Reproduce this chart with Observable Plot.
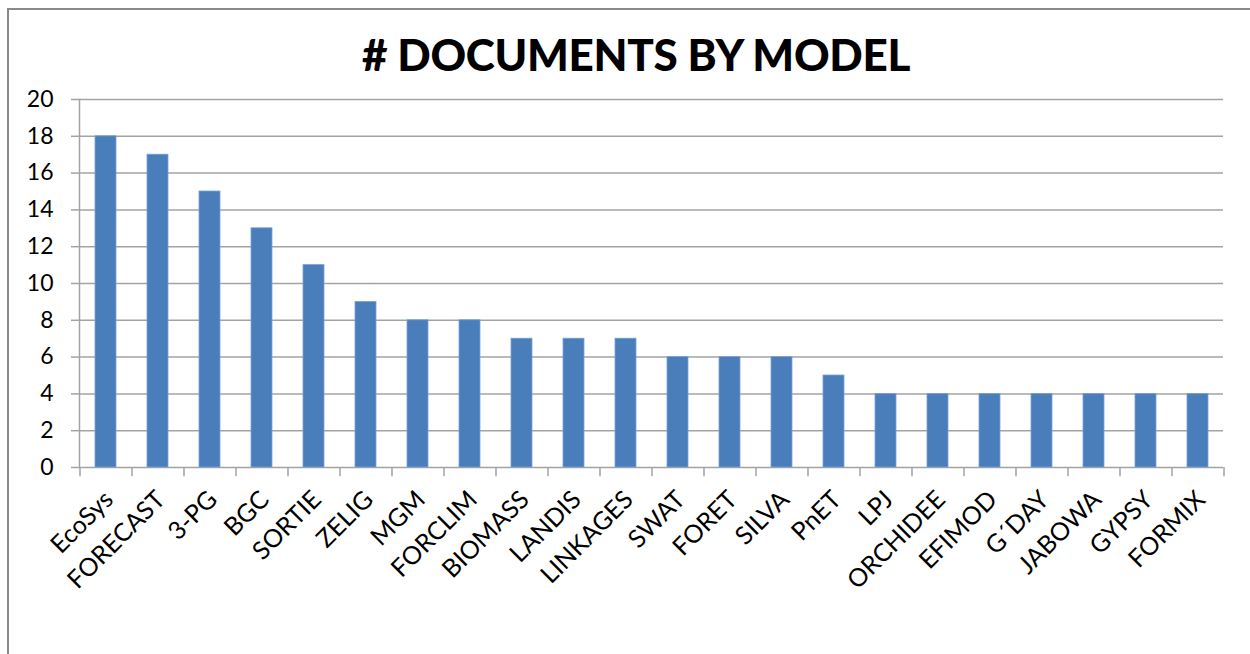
<!DOCTYPE html>
<html>
<head>
<meta charset="utf-8">
<script src="https://cdn.jsdelivr.net/npm/d3@7"></script>
<script src="https://cdn.jsdelivr.net/npm/@observablehq/plot@0.6"></script>
<style>
  html, body { margin: 0; padding: 0; background: #fff; }
  #wrap { position: relative; width: 1250px; height: 654px; overflow: hidden; background: #fff; }
  #frame { position: absolute; left: 7px; top: 8px; width: 1300px; height: 700px;
           border-top: 2px solid #8a8a8a; border-left: 2px solid #8a8a8a; }
  #chart { position: absolute; left: 0; top: 50px; }
  #title { position: absolute; left: 0; width: 1272px; top: 28px; text-align: center;
           font-family: Lato, "Liberation Sans", sans-serif; font-weight: 900; font-size: 44px;
           color: #000; letter-spacing: -0.3px; z-index: 2; }
</style>
</head>
<body>
<div id="wrap">
  <div id="frame"></div>
  <div id="chart"></div>
  <div id="title"># DOCUMENTS BY MODEL</div>
</div>
<script>
const models = ["EcoSys","FORECAST","3-PG","BGC","SORTIE","ZELIG","MGM","FORCLIM","BIOMASS","LANDIS","LINKAGES","SWAT","FORET","SILVA","PnET","LPJ","ORCHIDEE","EFIMOD","G´DAY","JABOWA","GYPSY","FORMIX"];
const documents = [18,17,15,13,11,9,8,8,7,7,7,6,6,6,5,4,4,4,4,4,4,4];
const yTicks = [0,2,4,6,8,10,12,14,16,18,20];

const data = models.map((m, i) => ({model: m, docs: documents[i]}));

const W = 1250, H = 604, ML = 79, MR = 27, MT = 49, MB = 187;
const bw = (W - ML - MR) / models.length;
const gridColor = "#a3a3a3";

const plot = Plot.plot({
  width: W,
  height: H,
  marginLeft: ML,
  marginRight: MR,
  marginTop: MT,
  marginBottom: MB,
  style: {fontFamily: "Lato, 'Liberation Sans', sans-serif", fontSize: "23px", color: "#000", background: "transparent"},
  x: {domain: models, paddingInner: 0.6, paddingOuter: 0.3, align: 0.5, label: null},
  y: {domain: [0, 20], label: null},
  marks: [
    Plot.ruleY(yTicks, {stroke: gridColor, strokeWidth: 1.5}),
    Plot.barY(data, {x: "model", y: "docs", fill: "#4a7ebb", stroke: "#7aa0d0", strokeWidth: 0.8}),
    // y axis line
    Plot.frame({anchor: "left", stroke: gridColor, strokeWidth: 1.5}),
    // x axis tick marks at band boundaries
    Plot.ruleX(models, {x: d => d, dx: -bw / 2, y1: 0, y2: -0.5, stroke: gridColor, strokeWidth: 1.5}),
    Plot.ruleX([models[models.length - 1]], {x: d => d, dx: bw / 2, y1: 0, y2: -0.5, stroke: gridColor, strokeWidth: 1.5}),
    Plot.axisY({ticks: yTicks, tickSize: 8, stroke: gridColor, strokeWidth: 1.5, tickPadding: 18, fontSize: 23, fill: "#000"}),
    Plot.axisX({tickSize: 0, tickPadding: 28, tickRotate: -45, fontSize: 25, dx: 3, fill: "#000"})
  ]
});

document.getElementById("chart").append(plot);
</script>
</body>
</html>
